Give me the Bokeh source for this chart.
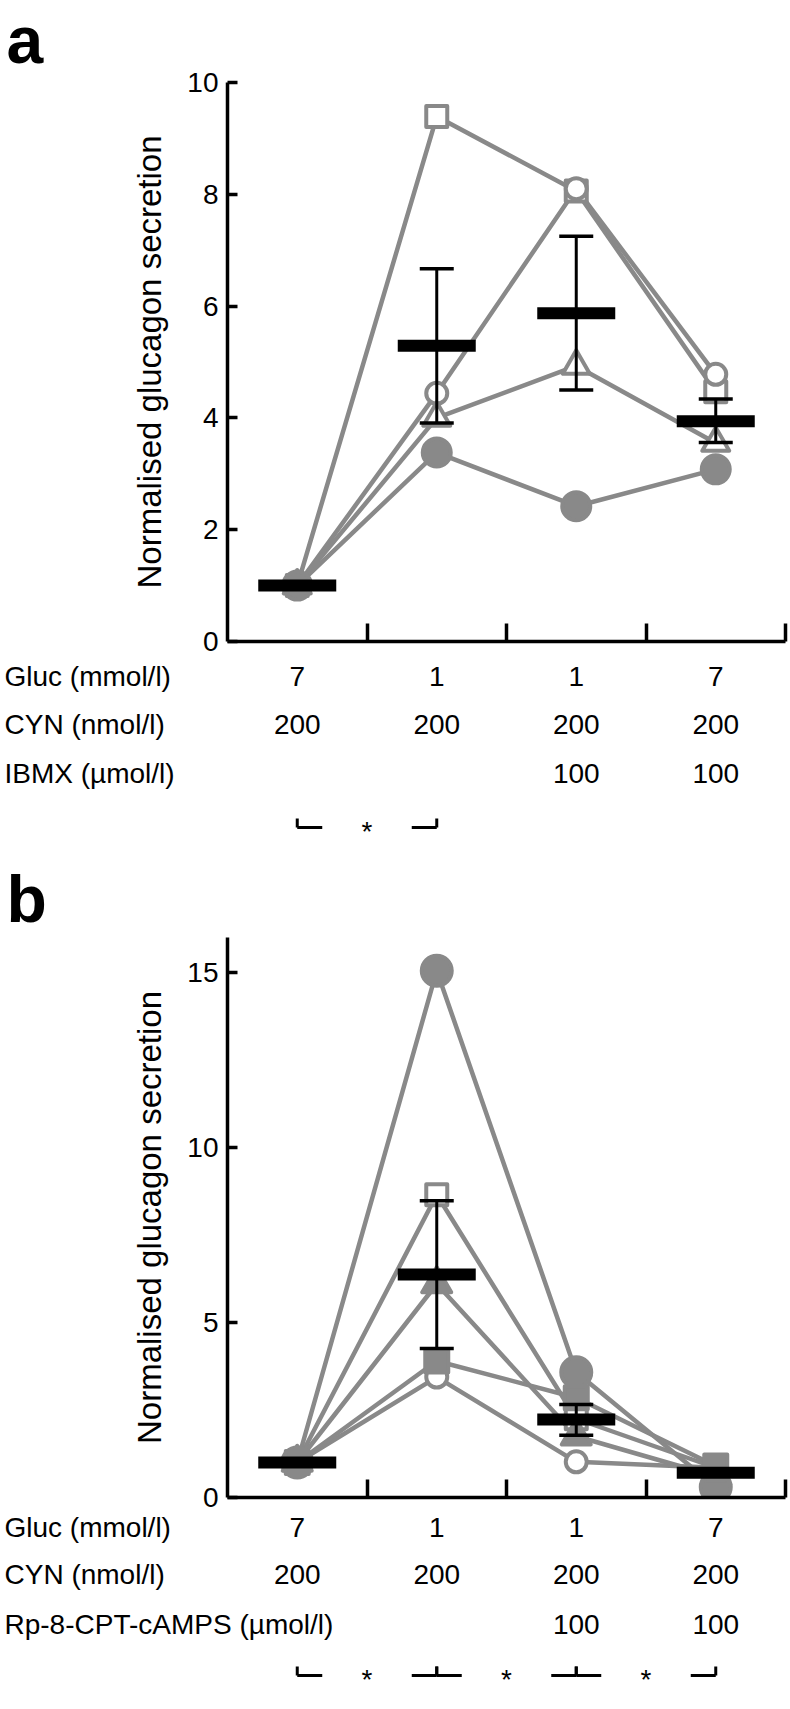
from bokeh.plotting import figure
from bokeh.models import Range1d, LinearAxis, FixedTicker
from bokeh.layouts import column, row
from bokeh.embed import file_html
from bokeh.resources import INLINE
from bokeh.core.properties import value

# ---------------- data ----------------
conditions = [1, 2, 3, 4]
gluc_row = ["7", "1", "1", "7"]
cyn_row = ["200", "200", "200", "200"]
ibmx_row = ["", "", "100", "100"]
rp_row = ["", "", "100", "100"]

# panel a (IBMX)
a_open_square = [1.0, 9.39, 8.06, 4.47]
a_open_circle = [1.0, 4.44, 8.10, 4.78]
a_open_triangle = [1.0, 4.00, 4.93, 3.55]
a_filled_circle = [1.0, 3.38, 2.42, 3.08]
a_mean = [1.0, 5.29, 5.87, 3.94]
a_err_low = [1.0, 3.91, 4.50, 3.56]
a_err_high = [1.0, 6.67, 7.25, 4.34]
a_sig_pairs = [(1, 2)]

# panel b (Rp-8-CPT-cAMPS)
b_open_square = [1.0, 8.65, 2.25, 0.85]
b_open_circle = [1.0, 3.44, 1.02, 0.85]
b_filled_circle = [1.0, 15.05, 3.58, 0.30]
b_filled_triangle = [1.0, 6.10, 1.75, 0.60]
b_filled_square = [1.0, 3.90, 2.85, 0.90]
b_mean = [1.0, 6.37, 2.23, 0.71]
b_err_low = [1.0, 4.26, 1.78, 0.71]
b_err_high = [1.0, 8.48, 2.66, 0.71]
b_sig_pairs = [(1, 2), (2, 3), (3, 4)]

GREY = "#898989"
FONT = "Liberation Sans"
W = 788
LETTER_W = 60
LEFT = 227
RIGHT = 3
X_PPU = (W - LEFT - RIGHT) / 4.0
X_EXT = (0.5 - LEFT / X_PPU, 4.5 + RIGHT / X_PPU)


def blank_fig(w, h, x_range):
    p = figure(width=w, height=h, x_range=Range1d(*x_range), y_range=Range1d(h, 0),
               x_axis_type=None, y_axis_type=None, output_backend="svg",
               toolbar_location=None, min_border_left=0, min_border_right=0,
               min_border_top=0, min_border_bottom=0, frame_align=False)
    p.outline_line_color = None
    return p


def letter_fig(letter, h, mid):
    p = blank_fig(LETTER_W, h, (0, LETTER_W))
    p.text(x=[6], y=[mid], text=[letter], text_font=value(FONT),
           text_font_size="66px", text_font_style="bold", text_baseline="middle",
           text_align="left", text_color="black")
    return p


def main_fig(series, mean, lo, hi, ymax, yticks, frame_h, top, bottom):
    p = figure(width=W - LETTER_W, height=frame_h + top + bottom, x_range=Range1d(0.5, 4.5),
               y_range=Range1d(0, ymax), x_axis_type=None, y_axis_type=None,
               output_backend="svg", toolbar_location=None,
               min_border_left=LEFT - LETTER_W, min_border_right=RIGHT,
               min_border_top=top, min_border_bottom=bottom, frame_align=False)
    p.outline_line_color = None

    yaxis = LinearAxis(ticker=FixedTicker(ticks=yticks))
    yaxis.axis_line_width = 3.5
    yaxis.major_tick_line_width = 3.5
    yaxis.major_tick_in = 10
    yaxis.major_tick_out = 0
    yaxis.minor_tick_line_color = None
    yaxis.major_label_text_font = FONT
    yaxis.major_label_text_font_size = "28px"
    yaxis.major_label_text_color = "black"
    yaxis.major_label_standoff = 9
    yaxis.axis_label = "Normalised glucagon secretion"
    yaxis.axis_label_text_font = FONT
    yaxis.axis_label_text_font_size = "33px"
    yaxis.axis_label_text_font_style = "normal"
    yaxis.axis_label_text_color = "black"
    yaxis.axis_label_standoff = 16
    p.add_layout(yaxis, "left")

    bounds = [1.5, 2.5, 3.5, 4.5]
    xaxis = LinearAxis(ticker=FixedTicker(ticks=bounds))
    xaxis.axis_line_width = 3.5
    xaxis.major_tick_line_width = 3.5
    xaxis.major_tick_in = 18
    xaxis.major_tick_out = 0
    xaxis.minor_tick_line_color = None
    xaxis.major_label_overrides = {b: "" for b in bounds}
    xaxis.major_label_text_font_size = "0px"
    xaxis.major_label_standoff = 0
    p.add_layout(xaxis, "below")

    for vals, marker, filled, size in series:
        p.line(conditions, vals, line_color=GREY, line_width=4.5, line_join="round")
    for vals, marker, filled, size in series:
        p.scatter(conditions, vals, marker=marker, size=size,
                  fill_color=GREY if filled else "white", line_color=GREY,
                  line_width=4, line_join="round")

    p.segment(conditions, lo, conditions, hi, line_color="black", line_width=3)
    for ends in (hi, lo):
        p.rect(conditions, ends, width=34, height=3.5, width_units="screen",
               height_units="screen", fill_color="black", line_color=None)
    p.rect(conditions, mean, width=78, height=12, width_units="screen", height_units="screen",
           fill_color="black", line_color=None)
    return p


def table_fig(h, row_titles, row_values, row_y, bracket_y, pairs):
    p = blank_fig(W, h, X_EXT)
    for title, vals, yv in zip(row_titles, row_values, row_y):
        p.text(x=[X_EXT[0] + 4 / X_PPU], y=[yv], text=[title], text_font=value(FONT),
               text_font_size="28px", text_baseline="middle", text_align="left",
               text_color="black")
        xs = [c for c, v in zip(conditions, vals) if v]
        ts = [v for v in vals if v]
        p.text(x=xs, y=[yv] * len(xs), text=ts, text_font=value(FONT),
               text_font_size="28px", text_baseline="middle", text_align="center",
               text_color="black")
    arm = 25 / X_PPU
    x0s, y0s, x1s, y1s, sx = [], [], [], [], []
    for a, b in pairs:
        x0s += [a, a, b - arm, b]
        y0s += [bracket_y] * 4
        x1s += [a + arm, a, b, b]
        y1s += [bracket_y, bracket_y - 9, bracket_y, bracket_y - 9]
        sx.append((a + b) / 2.0)
    p.segment(x0s, y0s, x1s, y1s, line_color="black", line_width=3)
    p.text(x=sx, y=[bracket_y + 4] * len(sx), text=["*"] * len(sx), text_font=value(FONT),
           text_font_size="28px", text_baseline="middle", text_align="center",
           text_color="black")
    return p


# ---------------- panel a ----------------
a_main = main_fig(
    [(a_open_square, "square", False, 21),
     (a_open_circle, "circle", False, 21),
     (a_open_triangle, "triangle", False, 27),
     (a_filled_circle, "circle", True, 28)],
    a_mean, a_err_low, a_err_high, 10, [0, 2, 4, 6, 8, 10],
    frame_h=559, top=82, bottom=16)
a_letter = letter_fig("a", 657, 39)
a_table = table_fig(201, ["Gluc (mmol/l)", "CYN (nmol/l)", "IBMX (\u00b5mol/l)"],
                    [gluc_row, cyn_row, ibmx_row], [19, 67, 116], 170, a_sig_pairs)

# ---------------- panel b ----------------
b_main = main_fig(
    [(b_open_square, "square", False, 21),
     (b_open_circle, "circle", False, 21),
     (b_filled_circle, "circle", True, 30),
     (b_filled_triangle, "triangle", True, 29),
     (b_filled_square, "square", True, 23)],
    b_mean, b_err_low, b_err_high, 16, [0, 5, 10, 15],
    frame_h=560, top=79, bottom=16)
b_letter = letter_fig("b", 655, 40)
b_table = table_fig(192, ["Gluc (mmol/l)", "CYN (nmol/l)", "Rp-8-CPT-cAMPS (\u00b5mol/l)"],
                    [gluc_row, cyn_row, rp_row], [14, 61, 111], 162, b_sig_pairs)

layout = column(row(a_letter, a_main, spacing=0), a_table,
                row(b_letter, b_main, spacing=0), b_table, spacing=0)
open("out.html", "w").write(file_html(layout, INLINE))
